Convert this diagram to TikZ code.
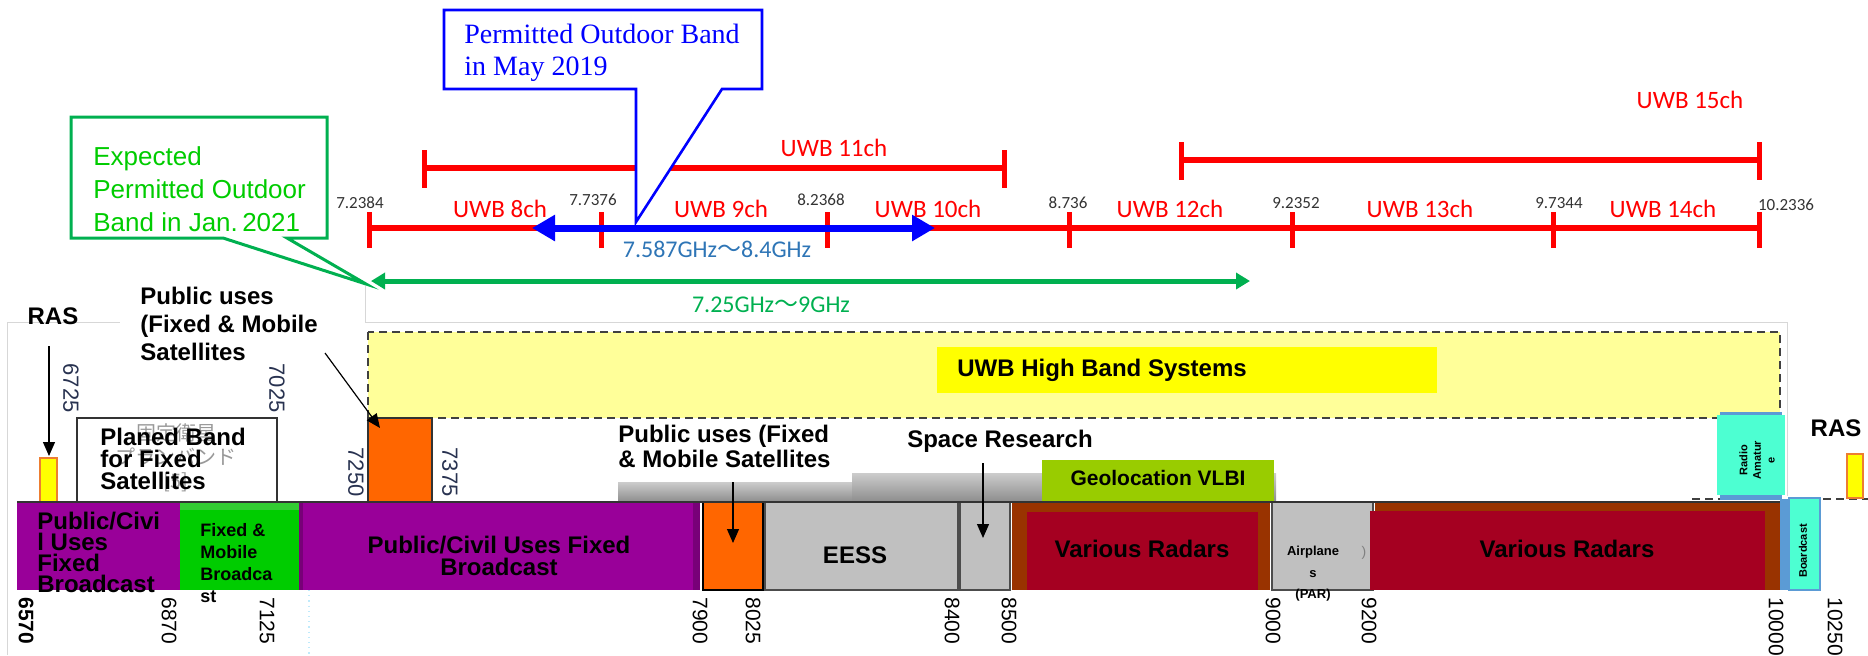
\documentclass[tikz,border=0pt]{standalone}
\usepackage{fontspec}
\setmainfont{Liberation Sans}
\newfontfamily\serifrm{Liberation Serif}
\newfontfamily\calfont{Carlito}
\newfontfamily\cjk{Noto Sans CJK JP}
\usetikzlibrary{arrows.meta}
\definecolor{uwbred}{RGB}{255,0,0}
\definecolor{cblue}{RGB}{0,0,255}
\definecolor{cgreen}{RGB}{0,176,80}
\definecolor{tgreen}{RGB}{0,204,0}
\definecolor{steel}{RGB}{46,117,182}
\definecolor{lyellow}{RGB}{255,255,153}
\definecolor{byellow}{RGB}{255,255,0}
\definecolor{purp}{RGB}{153,0,153}
\definecolor{dpurp}{RGB}{120,0,120}
\definecolor{fgreen}{RGB}{0,204,0}
\definecolor{lgreen}{RGB}{51,204,51}
\definecolor{orng}{RGB}{255,102,0}
\definecolor{lgray}{RGB}{192,192,192}
\definecolor{brwn}{RGB}{153,51,0}
\definecolor{radred}{RGB}{165,0,33}
\definecolor{geo}{RGB}{153,204,0}
\definecolor{aqua}{RGB}{77,255,210}
\definecolor{sblue}{RGB}{91,155,213}
\definecolor{numblue}{RGB}{40,50,80}
\definecolor{framegray}{RGB}{215,215,215}
\definecolor{rasorange}{RGB}{237,125,49}
\begin{document}
\begin{tikzpicture}[x=0.5pt,y=-0.5pt,
  bl/.style={font=\fontsize{12}{11}\selectfont\bfseries, inner sep=0pt, align=left},
  blc/.style={font=\fontsize{12}{11}\selectfont\bfseries, inner sep=0pt, align=center},
  uwb/.style={font=\calfont\fontsize{12.5}{14}\selectfont, text=uwbred, inner sep=0pt},
  fq/.style={font=\calfont\fontsize{8.5}{10}\selectfont, text=black!80, inner sep=0pt},
  vfq/.style={font=\fontsize{11}{12}\selectfont, text=numblue, inner sep=0pt, rotate=-90},
  bfq/.style={font=\fontsize{10.5}{12}\selectfont, inner sep=0pt, rotate=-90, anchor=west},
  redbar/.style={uwbred, line width=3pt},
  redtick/.style={uwbred, line width=2.5pt},
  pointer/.style={-{Triangle[length=7pt,width=6pt]}, line width=0.6pt},
  dashbox/.style={draw=black!75, dash pattern=on 4pt off 2.5pt, line width=1pt},
]
\useasboundingbox (0,0) rectangle (1868,655);
% frame lines
\draw[framegray, line width=0.5pt] (7,655) -- (7,322) -- (120,322);
\draw[framegray, line width=0.5pt] (365,286) -- (365,322) -- (1787,322) -- (1787,496);
% UWB high band dashed region
\draw[dashbox, fill=lyellow] (368,332) rectangle (1780,418);
\node[fill=byellow, minimum width=250pt, minimum height=23pt, inner sep=0pt, anchor=west] (uwbhb) at (937,370) {};
\node[bl, anchor=west] (uwbhbt) at (957,370) {UWB High Band Systems};
\draw[dashbox, line width=0.8pt] (1692,499) -- (1720,499);
\draw[dashbox, line width=0.8pt] (1823,499) -- (1868,499);

% red channel scale
\draw[redbar] (369,228) -- (1759,228);
\foreach \x in {369,601,827,1069,1292,1553,1759} \draw[redtick] (\x,212) -- (\x,248);
\draw[redbar] (424,168) -- (1004,168);
\draw[redtick] (424,150) -- (424,188);
\draw[redtick] (1004,150) -- (1004,188);
\draw[redbar] (1181,160) -- (1759,160);
\draw[redtick] (1181,142) -- (1181,180);
\draw[redtick] (1759,142) -- (1759,180);
\node[fq] (f1) at (360,203) {7.2384};
\node[fq] (f2) at (593,200) {7.7376};
\node[fq] (f3) at (821,200) {8.2368};
\node[fq] (f4) at (1068,203) {8.736};
\node[fq] (f5) at (1296,203) {9.2352};
\node[fq] (f6) at (1559,203) {9.7344};
\node[fq] (f7) at (1786,205) {10.2336};
\node[uwb] (c8) at (500,209) {UWB 8ch};
\node[uwb] (c9) at (721,209) {UWB 9ch};
\node[uwb] (c10) at (928,209) {UWB 10ch};
\node[uwb] (c12) at (1170,209) {UWB 12ch};
\node[uwb] (c13) at (1420,209) {UWB 13ch};
\node[uwb] (c14) at (1663,209) {UWB 14ch};
\node[uwb] (c11) at (834,148) {UWB 11ch};
\node[uwb] (c15) at (1690,100) {UWB 15ch};

% blue permitted band arrow
\coordinate (bL) at (532,228);
\coordinate (bR) at (935,228);
\draw[cblue, line width=3.5pt, {Triangle[length=11.5pt,width=12.5pt]}-{Triangle[length=11.5pt,width=12.5pt]}] (bL) -- (bR);
\node[font=\calfont\fontsize{12}{14}\selectfont, text=steel, inner sep=0pt] (brange) at (717,249) {7.587GHz{\cjk ～}8.4GHz};
% green expected band arrow
\coordinate (gL) at (371,281);
\coordinate (gR) at (1250,281);
\draw[cgreen, line width=2.5pt, {Triangle[length=7pt,width=8pt]}-{Triangle[length=7pt,width=8pt]}] (gL) -- (gR);
\node[font=\calfont\fontsize{12}{14}\selectfont, text=cgreen, inner sep=0pt] (grange) at (771,305) {7.25GHz{\cjk ～}9GHz};

% blue callout
\draw[cblue, line width=1.3pt, fill=white] (444,10) -- (762,10) -- (762,89) -- (722,89) -- (636,222) -- (636,89) -- (444,89) -- cycle;
\node[font=\serifrm\fontsize{14}{16}\selectfont, text=cblue, align=left, anchor=north west, inner sep=0pt] (bcall) at (464,24) {Permitted Outdoor Band\\in May 2019};
% green callout
\draw[cgreen, line width=1.5pt, fill=white] (71,117) -- (327,117) -- (327,238) -- (287,238) -- (366,284) -- (223,238) -- (71,238) -- cycle;
\node[font=\fontsize{13}{16.5}\selectfont, text=tgreen, align=left, anchor=north west, inner sep=0pt] (gcall) at (93,146) {Expected\\Permitted Outdoor\\Band in Jan.\,2021};

% planned band box
\draw[fill=white, draw=black!80, line width=1pt] (77,418) rectangle (277,502);
\node[font=\cjk\fontsize{10}{12}\selectfont, text=black!40, align=center, inner sep=0pt] (jp) at (176,458) {固定衛星\\プランバンド\\{[}5{]}};
\node[bl, anchor=north west] (planed) at (100,428) {Planed Band\\for Fixed\\Satellites};
\node[vfq] (l6725) at (71,388) {6725};
\node[vfq] (l7025) at (277,388) {7025};

% 7250-7375 box
\draw[fill=orng, draw=black!80, line width=0.6pt] (368,418) rectangle (432,502);
\node[vfq] (l7250) at (356,472) {7250};
\node[vfq] (l7375) at (450,472) {7375};

% RAS left and right
\node[bl] (ras1) at (53,316) {RAS};
\draw[fill=byellow, draw=rasorange, line width=1pt] (40,458) rectangle (57,502);
\coordinate (ras1tip) at (49,456);
\draw[pointer] (49,346) -- (ras1tip);
\node[bl] (ras2) at (1836,428) {RAS};
\draw[fill=byellow, draw=rasorange, line width=1pt] (1847,454) rectangle (1863,498);

% public uses labels
\node[bl, anchor=north west, font=\fontsize{12}{14}\selectfont\bfseries] (pu1) at (140,287) {Public uses\\(Fixed \& Mobile\\Satellites};
\coordinate (pu1tip) at (380,428);
\draw[pointer] (325,353) -- (pu1tip);

% gray strips and geolocation
\shade[top color=black!20, bottom color=black!45] (618,482) rectangle (852,502);
\shade[top color=black!20, bottom color=black!45] (852,473) rectangle (1276,502);
\node[fill=geo, minimum width=116pt, minimum height=20.5pt, inner sep=0pt] (geo) at (1158,480.5) {};
\node[font=\fontsize{10.5}{12}\selectfont\bfseries, inner sep=0pt] (geot) at (1158,478) {Geolocation VLBI};
\node[bl, anchor=north west] (pu2) at (618,425) {Public uses (Fixed\\\& Mobile Satellites};
\node[bl] (sr) at (1000,441) {Space Research};

% radio amateur
\fill[sblue] (1720,412) rectangle (1782,500);
\fill[aqua] (1717,415) rectangle (1785,495);
\node[font=\fontsize{5.5}{6.8}\selectfont\bfseries, align=center, rotate=90, inner sep=0pt] (ra) at (1757,460) {Radio\\Amatur\\e};

% main band bar
\fill[purp] (17,502) rectangle (180,590);
\fill[fgreen] (180,502) rectangle (299,590);
\fill[lgreen] (180,502) rectangle (299,510);
\fill[purp] (299,502) rectangle (700,590);
\fill[dpurp] (299,502) rectangle (303,590);
\fill[dpurp] (693,502) rectangle (700,590);
\draw[fill=orng, draw=black, line width=0.6pt] (703,502) rectangle (763,590);
\draw[fill=lgray, draw=black!70, line width=0.6pt] (765,502) rectangle (958,590);
\draw[fill=lgray, draw=black!70, line width=0.6pt] (960,502) rectangle (1010,590);
\fill[brwn] (1012,502) rectangle (1270,590);
\fill[radred] (1027,512) rectangle (1258,590);
\draw[fill=lgray, draw=black!70, line width=0.6pt] (1272,502) rectangle (1373,590);
\fill[brwn] (1375,502) rectangle (1780,590);
\fill[radred] (1370,511) rectangle (1765,590);
\fill[sblue] (1780,499) rectangle (1789,590);
\draw[fill=aqua, draw=sblue, line width=0.8pt] (1789,498) rectangle (1820,590);
\draw[black!80, line width=0.8pt] (17,502) -- (1780,502);

% arrows into the bar
\coordinate (pu2tip) at (733,543);
\draw[pointer] (733,482) -- (pu2tip);
\coordinate (srtip) at (983,538);
\draw[pointer] (983,463) -- (srtip);

% bar texts
\node[bl, anchor=north west, font=\fontsize{12}{10.5}\selectfont\bfseries] (pc1) at (37,512) {Public/Civi\\l Uses\\Fixed\\Broadcast};
\node[font=\fontsize{9}{11}\selectfont\bfseries, align=left, anchor=north west, inner sep=0pt] (fmb) at (200,523) {Fixed \&\\Mobile\\Broadca\\st};
\node[blc] (pc2) at (499,556) {Public/Civil Uses Fixed\\Broadcast};
\node[bl] (eess) at (855,555) {EESS};
\node[bl] (vr1) at (1142,549) {Various Radars};
\node[font=\fontsize{6.5}{10.75}\selectfont\bfseries, align=center, inner sep=0pt] (air) at (1313,574) {Airplane\\s\\(PAR)};
\node[font=\fontsize{7}{8}\selectfont, text=black!50, inner sep=0pt] (paren) at (1364,553) {)};
\node[bl] (vr2) at (1567,549) {Various Radars};
\node[font=\fontsize{5.5}{6.8}\selectfont\bfseries, rotate=90, inner sep=0pt] (bc) at (1803,551) {Boardcast};

% bottom frequency labels
\draw[cyan!25, dotted, line width=0.6pt] (309,590) -- (309,655);
\node[bfq, font=\fontsize{10.5}{12}\selectfont\bfseries] (b6570) at (26,597) {6570};
\node[bfq] (b6870) at (169,597) {6870};
\node[bfq] (b7125) at (267,597) {7125};
\node[bfq] (b7900) at (700,597) {7900};
\node[bfq] (b8025) at (753,597) {8025};
\node[bfq] (b8400) at (952,597) {8400};
\node[bfq] (b8500) at (1009,597) {8500};
\node[bfq] (b9000) at (1273,597) {9000};
\node[bfq] (b9200) at (1369,597) {9200};
\node[bfq] (b10000) at (1776,597) {10000};
\node[bfq] (b10250) at (1835,597) {10250};
\end{tikzpicture}
\end{document}
